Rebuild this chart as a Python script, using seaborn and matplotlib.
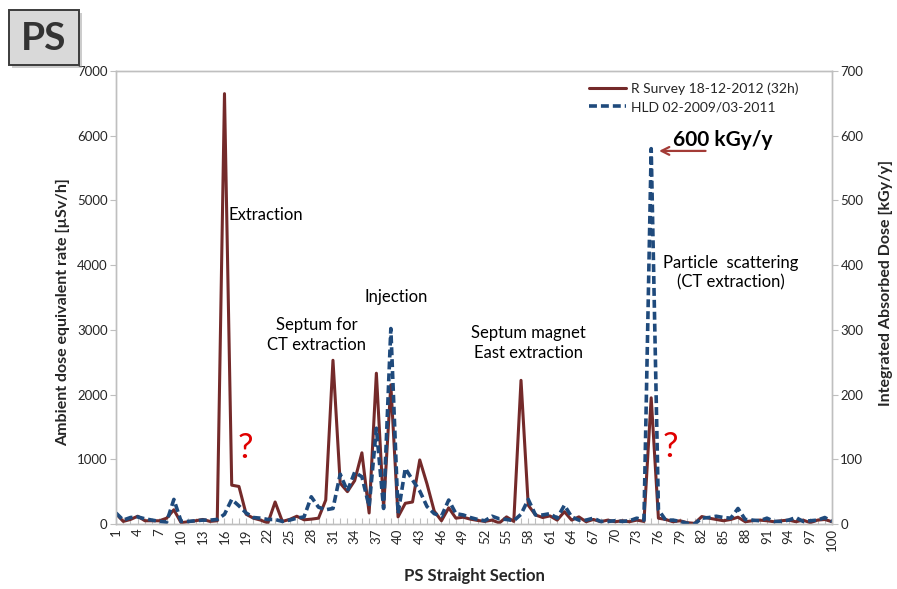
import numpy as np
import pandas as pd
import matplotlib
matplotlib.use("Agg")
import matplotlib.pyplot as plt
import seaborn as sns
from matplotlib.patches import Rectangle

# ---------------- data ----------------
sections = list(range(1, 101))

survey_usvh = [160, 40, 70, 120, 50, 50, 50, 90, 220, 20,
               35, 50, 70, 40, 50, 6650, 600, 580, 150, 90,
               60, 15, 340, 40, 70, 120, 65, 75, 90, 370,
               2530, 630, 500, 670, 1100, 170, 2330, 250, 2150, 110,
               320, 340, 990, 620, 200, 50, 250, 90, 105, 75,
               55, 40, 60, 15, 110, 40, 2220, 290, 140, 100,
               125, 60, 190, 60, 110, 35, 70, 35, 60, 35,
               50, 35, 60, 40, 1950, 90, 70, 35, 50, 20,
               10, 115, 90, 70, 50, 70, 105, 35, 50, 60,
               50, 35, 50, 60, 35, 60, 20, 60, 70, 35]

hld_kgyy = [17, 6, 10, 11, 8, 6, 4, 3, 38, 4,
            4, 5, 6, 6, 7, 15, 38, 28, 17, 10,
            9, 7, 7, 4, 6, 9, 11, 42, 26, 22,
            24, 77, 51, 80, 73, 27, 148, 24, 302, 16,
            86, 68, 51, 27, 16, 12, 37, 16, 14, 10,
            7, 5, 12, 8, 7, 5, 15, 38, 14, 14,
            16, 9, 29, 11, 6, 6, 9, 4, 4, 5,
            4, 5, 9, 6, 580, 22, 6, 6, 4, 1,
            0, 9, 10, 12, 10, 9, 24, 7, 6, 5,
            9, 4, 4, 6, 10, 4, 5, 6, 10, 4]

left_ticks = [0, 1000, 2000, 3000, 4000, 5000, 6000, 7000]
right_ticks = [0, 100, 200, 300, 400, 500, 600, 700]
xtick_labels = list(range(1, 101, 3))

series_names = ["R Survey 18-12-2012 (32h)", "HLD 02-2009/03-2011"]

# ---------------- style ----------------
sns.set_theme(style="white")
plt.rcParams["font.family"] = ["Lato", "DejaVu Sans"]

RED = "#742a2a"
BLUE = "#1f4a7c"
SPINE = "#bfbfbf"
TXT = "#262626"

W, H = 897, 589
fig = plt.figure(figsize=(W / 100, H / 100), dpi=100)
fig.patch.set_facecolor("white")

L, R, T, B = 116, 832, 71, 524
ax = fig.add_axes([L / W, 1 - B / H, (R - L) / W, (B - T) / H])

df = pd.DataFrame({"section": sections, "survey": survey_usvh, "hld": hld_kgyy})

sns.lineplot(data=df, x="section", y="survey", ax=ax, color=RED,
             linewidth=2.2, label=series_names[0], legend=False)
ax2 = ax.twinx()
sns.lineplot(data=df, x="section", y="hld", ax=ax2, color=BLUE,
             linewidth=2.6, linestyle=(0, (2.2, 1.1)), label=series_names[1],
             legend=False)

ax.set_xlim(1, 100)
ax.set_ylim(0, 7000)
ax2.set_ylim(0, 700)
ax.set_yticks(left_ticks)
ax.set_yticklabels([str(v) for v in left_ticks])
ax2.set_yticks(right_ticks)
ax2.set_yticklabels([str(v) for v in right_ticks])
ax.set_xticks(xtick_labels)
ax.set_xticklabels([str(v) for v in xtick_labels], rotation=90)
ax.set_xticks(sections, minor=True)

for a in (ax, ax2):
    for s in a.spines.values():
        s.set_color(SPINE)
        s.set_linewidth(1.0)
    a.grid(False)

ax.tick_params(axis="x", which="both", direction="in", length=4, width=0.8,
               color=SPINE, labelsize=9.5, labelcolor=TXT, pad=3, bottom=True)
ax.tick_params(axis="y", direction="out", length=4, width=0.8, color=SPINE,
               labelsize=9.5, labelcolor=TXT, pad=2, left=True)
ax2.tick_params(axis="y", direction="out", length=4, width=0.8, color=SPINE,
                labelsize=9.5, labelcolor=TXT, pad=2, right=True)

ax.set_xlabel("PS Straight Section", fontsize=12, fontweight="bold", color=TXT)
ax.set_ylabel("Ambient dose equivalent rate [µSv/h]", fontsize=11.5,
              fontweight="bold", color=TXT)
ax2.set_ylabel("Integrated Absorbed Dose [kGy/y]", fontsize=11.5,
               fontweight="bold", color=TXT)
ax.xaxis.set_label_coords(0.5, -0.097)
ax.yaxis.set_label_coords(-0.064, 0.468)
ax2.yaxis.set_label_coords(1.066, 0.532)

# legend
h1, l1 = ax.get_legend_handles_labels()
h2, l2 = ax2.get_legend_handles_labels()
leg = ax2.legend(h1 + h2, l1 + l2, loc="upper left",
                 bbox_to_anchor=(583 / W, 1 - 77 / H),
                 bbox_transform=fig.transFigure, frameon=False,
                 fontsize=10, handlelength=2.7, handletextpad=0.35,
                 labelspacing=0.45, borderaxespad=0)
for t in leg.get_texts():
    t.set_color(TXT)

# annotations (positions in data coordinates of the left axis)
ann_kw = dict(fontsize=12, color="black", ha="center", va="center",
              linespacing=1.25)
ax.text(16.5, 4776, "Extraction", **{**ann_kw, "ha": "left"})
ax.text(28.7, 2921, "Septum for\nCT extraction", **ann_kw)
ax.text(39.7, 3508, "Injection", **ann_kw)
ax.text(58.0, 2797, "Septum magnet\nEast extraction", **ann_kw)
ax.text(86.0, 3879, "Particle  scattering\n(CT extraction)", **ann_kw)
ax.text(84.9, 5930, "600 kGy/y", fontsize=15, fontweight="bold",
        color="black", ha="center", va="center")
ax.annotate("", xy=(75.7, 5765), xytext=(82.9, 5765),
            arrowprops=dict(arrowstyle="->", color="#a33b36", lw=1.6,
                            mutation_scale=14))
ax.text(18.9, 1175, "?", fontsize=25, color="#e00000", ha="center",
        va="center")
ax.text(77.7, 1190, "?", fontsize=25, color="#e00000", ha="center",
        va="center")

# "PS" badge at top-left
shadow = Rectangle((12 / W, 1 - 68 / H), 70 / W, 55 / H,
                   transform=fig.transFigure, facecolor="#9a9a9a",
                   edgecolor="none", alpha=0.5, zorder=1)
badge = Rectangle((9 / W, 1 - 65 / H), 70 / W, 55 / H,
                  transform=fig.transFigure, facecolor="#d9d9d9",
                  edgecolor="#3c3c3c", linewidth=1.4, zorder=2)
fig.patches.extend([shadow, badge])
fig.text(44 / W, 1 - 38 / H, "PS", fontsize=28, fontweight="bold",
         color="#333333", ha="center", va="center", zorder=3)

fig.savefig("out.png", dpi=100, facecolor="white")
